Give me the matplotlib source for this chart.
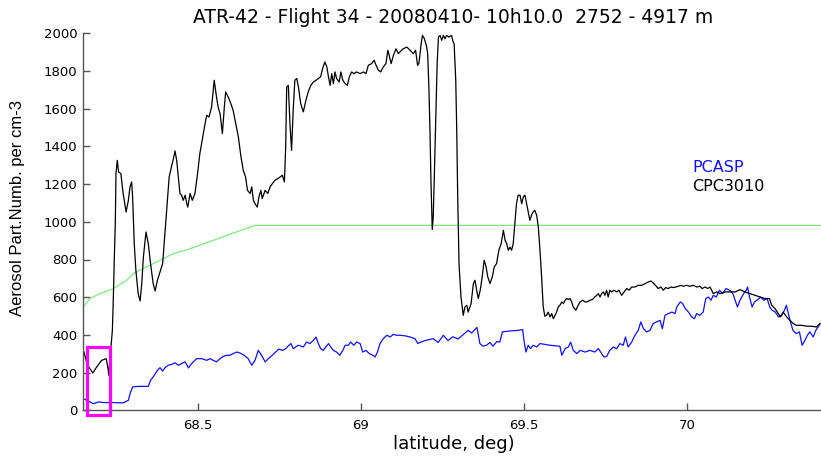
import matplotlib
matplotlib.use("Agg")
import matplotlib.pyplot as plt
from matplotlib.patches import Rectangle
from matplotlib import font_manager

# ---------------- data ----------------
title = "ATR-42 - Flight 34 - 20080410- 10h10.0  2752 - 4917 m"
xlabel = "latitude, deg)"
ylabel = "Aerosol Part.Numb. per cm-3"
legend_labels = ["PCASP", "CPC3010"]
xticks = [68.5, 69.0, 69.5, 70.0]
xtick_labels = ["68.5", "69", "69.5", "70"]
yticks = [0, 200, 400, 600, 800, 1000, 1200, 1400, 1600, 1800, 2000]

cpc_lat = [68.152, 68.162, 68.179, 68.191, 68.206, 68.220, 68.225, 68.228, 68.232, 68.239,
           68.242, 68.245, 68.248, 68.250, 68.254, 68.258, 68.265, 68.272, 68.281, 68.288,
           68.293, 68.298, 68.301, 68.306, 68.311, 68.318, 68.324, 68.329, 68.334, 68.342,
           68.349, 68.356, 68.364, 68.370, 68.377, 68.385, 68.393, 68.400, 68.407, 68.413,
           68.421, 68.426, 68.431, 68.436, 68.441, 68.446, 68.451, 68.456, 68.462, 68.467,
           68.470, 68.477, 68.484, 68.492, 68.500, 68.507, 68.514, 68.523, 68.528, 68.535,
           68.543, 68.551, 68.558, 68.563, 68.569, 68.576, 68.582, 68.586, 68.594, 68.602,
           68.609, 68.615, 68.625, 68.633, 68.640, 68.647, 68.653, 68.661, 68.666, 68.671,
           68.676, 68.683, 68.688, 68.694, 68.698, 68.707, 68.715, 68.722, 68.729, 68.737,
           68.746, 68.753, 68.760, 68.766, 68.770, 68.773, 68.778, 68.783, 68.788, 68.793,
           68.798, 68.804, 68.809, 68.816, 68.824, 68.832, 68.839, 68.847, 68.855, 68.863,
           68.870, 68.877, 68.883, 68.890, 68.896, 68.901, 68.906, 68.911, 68.916, 68.921,
           68.926, 68.934, 68.939, 68.945, 68.952, 68.959, 68.965, 68.972, 68.979, 68.987,
           68.998, 69.008, 69.016, 69.023, 69.033, 69.041, 69.047, 69.054, 69.061, 69.069,
           69.077, 69.083, 69.087, 69.093, 69.100, 69.108, 69.115, 69.120, 69.130, 69.141,
           69.151, 69.161, 69.168, 69.174, 69.178, 69.185, 69.189, 69.195, 69.202, 69.205,
           69.209, 69.212, 69.215, 69.219, 69.222, 69.225, 69.230, 69.234, 69.238, 69.243,
           69.248, 69.253, 69.258, 69.263, 69.270, 69.278, 69.283, 69.286, 69.291, 69.294,
           69.297, 69.301, 69.307, 69.314, 69.319, 69.325, 69.329, 69.338, 69.345, 69.350,
           69.355, 69.360, 69.366, 69.372, 69.378, 69.384, 69.389, 69.396, 69.403, 69.409,
           69.416, 69.423, 69.430, 69.437, 69.442, 69.447, 69.452, 69.457, 69.462, 69.467,
           69.472, 69.477, 69.482, 69.488, 69.493, 69.498, 69.503, 69.508, 69.513, 69.518,
           69.523, 69.528, 69.533, 69.539, 69.544, 69.549, 69.554, 69.559, 69.564, 69.569,
           69.574, 69.580, 69.585, 69.590, 69.595, 69.600, 69.605, 69.610, 69.616, 69.621,
           69.626, 69.631, 69.636, 69.641, 69.646, 69.651, 69.659, 69.666, 69.672, 69.680,
           69.687, 69.694, 69.702, 69.710, 69.717, 69.723, 69.728, 69.733, 69.738, 69.743,
           69.748, 69.753, 69.758, 69.763, 69.768, 69.776, 69.784, 69.791, 69.799, 69.807,
           69.815, 69.822, 69.830, 69.840, 69.850, 69.861, 69.871, 69.881, 69.889, 69.896,
           69.903, 69.911, 69.920, 69.927, 69.934, 69.942, 69.950, 69.957, 69.965, 69.973,
           69.981, 69.988, 69.998, 70.008, 70.019, 70.029, 70.039, 70.046, 70.055, 70.063,
           70.070, 70.080, 70.090, 70.101, 70.116, 70.131, 70.147, 70.162, 70.177, 70.193,
           70.208, 70.223, 70.238, 70.252, 70.259, 70.269, 70.279, 70.286, 70.294, 70.305,
           70.315, 70.325, 70.335, 70.350, 70.366, 70.381, 70.396, 70.407]
cpc_val = [309, 242, 198, 230, 265, 274, 230, 186, 283, 424,
           601, 813, 990, 1256, 1326, 1264, 1256, 1150, 1052, 1114,
           1185, 1211, 1132, 884, 743, 619, 580, 672, 813, 946,
           884, 778, 672, 633, 690, 734, 778, 937, 1096, 1238,
           1300, 1335, 1376, 1326, 1238, 1150, 1141, 1114, 1141, 1096,
           1078, 1150, 1114, 1150, 1256, 1362, 1432, 1521, 1565, 1556,
           1609, 1751, 1662, 1609, 1574, 1468, 1609, 1689, 1662, 1627,
           1591, 1539, 1450, 1344, 1273, 1238, 1167, 1150, 1185, 1114,
           1096, 1078, 1132, 1167, 1123, 1167, 1150, 1185, 1202, 1220,
           1229, 1238, 1247, 1211, 1397, 1715, 1724, 1521, 1379, 1591,
           1751, 1760, 1715, 1627, 1583, 1645, 1689, 1724, 1742, 1751,
           1760, 1769, 1813, 1848, 1822, 1769, 1724, 1786, 1733, 1795,
           1760, 1742, 1795, 1751, 1733, 1724, 1769, 1795, 1786, 1795,
           1786, 1795, 1786, 1830, 1839, 1857, 1830, 1804, 1795, 1822,
           1839, 1910, 1883, 1839, 1883, 1918, 1892, 1901, 1918, 1927,
           1910, 1892, 1910, 1830, 1839, 1945, 1989, 1971, 1927, 1892,
           1698, 1485, 1220, 959, 1025, 1220, 1574, 1839, 1980, 1989,
           1963, 1989, 1971, 1989, 1980, 1989, 1954, 1945, 1751, 1485,
           1132, 778, 601, 504, 548, 557, 521, 566, 672, 690,
           637, 593, 637, 708, 796, 761, 708, 672, 708, 761,
           778, 849, 884, 955, 902, 884, 849, 866, 849, 884,
           990, 1096, 1141, 1141, 1096, 1132, 1141, 1096, 1052, 1008,
           1034, 1052, 1061, 1034, 972, 849, 708, 548, 499, 504,
           521, 495, 513, 486, 504, 521, 548, 557, 575, 566,
           584, 593, 588, 593, 575, 548, 531, 557, 575, 584,
           575, 575, 584, 588, 601, 610, 619, 601, 619, 628,
           610, 637, 601, 637, 628, 637, 628, 637, 610, 628,
           646, 637, 654, 654, 663, 663, 672, 681, 686, 675,
           663, 646, 654, 637, 651, 646, 654, 651, 654, 658,
           663, 658, 663, 658, 663, 654, 658, 646, 654, 646,
           654, 619, 628, 619, 628, 628, 628, 640, 628, 619,
           610, 601, 593, 593, 557, 540, 513, 495, 521, 495,
           477, 460, 451, 451, 446, 446, 442, 460]

pcasp_lat = [68.150, 68.165, 68.181, 68.196, 68.216, 68.242, 68.272, 68.288, 68.293, 68.301,
             68.318, 68.349, 68.356, 68.364, 68.377, 68.385, 68.393, 68.400, 68.410, 68.421,
             68.431, 68.441, 68.451, 68.462, 68.472, 68.482, 68.497, 68.513, 68.528, 68.538,
             68.548, 68.558, 68.569, 68.579, 68.589, 68.599, 68.609, 68.620, 68.630, 68.643,
             68.655, 68.666, 68.676, 68.686, 68.696, 68.707, 68.717, 68.729, 68.739, 68.749,
             68.760, 68.770, 68.780, 68.786, 68.793, 68.809, 68.824, 68.834, 68.844, 68.855,
             68.863, 68.870, 68.877, 68.885, 68.893, 68.901, 68.908, 68.916, 68.926, 68.936,
             68.945, 68.952, 68.962, 68.969, 68.979, 68.987, 68.998, 69.006, 69.016, 69.026,
             69.037, 69.044, 69.051, 69.059, 69.069, 69.080, 69.090, 69.100, 69.110, 69.120,
             69.136, 69.151, 69.166, 69.175, 69.181, 69.197, 69.222, 69.237, 69.253, 69.267,
             69.282, 69.298, 69.313, 69.329, 69.340, 69.356, 69.365, 69.374, 69.385, 69.396,
             69.405, 69.417, 69.426, 69.434, 69.457, 69.482, 69.496, 69.500, 69.506, 69.513,
             69.520, 69.528, 69.539, 69.549, 69.580, 69.610, 69.616, 69.626, 69.636, 69.643,
             69.651, 69.662, 69.672, 69.687, 69.702, 69.717, 69.728, 69.738, 69.745, 69.753,
             69.763, 69.774, 69.784, 69.794, 69.804, 69.811, 69.819, 69.830, 69.840, 69.850,
             69.858, 69.866, 69.876, 69.886, 69.896, 69.906, 69.917, 69.924, 69.932, 69.942,
             69.953, 69.963, 69.968, 69.979, 69.986, 69.994, 70.004, 70.014, 70.022, 70.029,
             70.039, 70.049, 70.057, 70.065, 70.073, 70.080, 70.089, 70.099, 70.109, 70.119,
             70.130, 70.140, 70.147, 70.154, 70.162, 70.173, 70.181, 70.185, 70.191, 70.199,
             70.206, 70.214, 70.225, 70.235, 70.245, 70.253, 70.260, 70.270, 70.280, 70.290,
             70.298, 70.304, 70.310, 70.315, 70.324, 70.334, 70.344, 70.352, 70.361, 70.368,
             70.376, 70.386, 70.394, 70.401, 70.407]
pcasp_val = [62, 49, 35, 44, 41, 41, 39, 53, 88, 124,
             127, 127, 159, 177, 212, 226, 208, 226, 239, 244,
             252, 239, 248, 257, 225, 248, 274, 274, 265, 274,
             265, 257, 274, 286, 292, 292, 301, 309, 304, 292,
             274, 239, 265, 318, 292, 257, 274, 292, 309, 325,
             318, 327, 345, 354, 327, 345, 336, 362, 354, 371,
             389, 354, 327, 318, 336, 354, 336, 318, 309, 292,
             318, 345, 345, 362, 345, 362, 354, 309, 318, 301,
             292, 283, 309, 354, 380, 398, 389, 403, 398, 398,
             395, 389, 380, 354, 360, 370, 380, 360, 398, 370,
             390, 378, 400, 424, 410, 440, 354, 340, 345, 360,
             340, 365, 362, 416, 421, 424, 428, 371, 309, 345,
             327, 345, 336, 354, 345, 340, 292, 327, 336, 362,
             318, 301, 318, 309, 318, 309, 327, 301, 283, 285,
             318, 336, 327, 354, 345, 389, 336, 362, 398, 424,
             469, 433, 416, 424, 460, 469, 477, 433, 504, 513,
             521, 513, 548, 575, 566, 540, 521, 495, 486, 513,
             504, 521, 593, 601, 584, 610, 601, 637, 619, 646,
             637, 619, 584, 548, 584, 619, 637, 654, 601, 548,
             575, 584, 601, 584, 593, 548, 531, 521, 495, 504,
             531, 557, 513, 477, 424, 407, 416, 345, 371, 398,
             416, 389, 424, 442, 460]

ref_lat = [68.150, 68.170, 68.201, 68.242, 68.283, 68.303, 68.344, 68.385, 68.426, 68.477,
           68.563, 68.676, 70.410]
ref_val = [549, 593, 619, 646, 690, 725, 761, 796, 831, 857,
           911, 981, 981]

box_lat = [68.162, 68.232]
box_val = [-27, 336]

xlim = [68.149, 70.410]
ylim = [0, 2000]

# ---------------- fonts ----------------
names = {f.name for f in font_manager.fontManager.ttflist}
if "Liberation Sans Narrow" in names:
    yl_family, yl_size = "Liberation Sans Narrow", 14.5
else:
    yl_family, yl_size = "Liberation Sans", 12.0
main_family = "DejaVu Sans"

# ---------------- figure ----------------
fig = plt.figure(figsize=(8.21, 4.57), dpi=100)
ax = fig.add_axes([83 / 821, 1 - 410.3 / 457, 738 / 821, 377 / 457])

ax.plot(ref_lat, ref_val, color="#7ee87e", lw=0.9)
ax.plot(pcasp_lat, pcasp_val, color="#1010ff", lw=0.9)
ax.plot(cpc_lat, cpc_val, color="black", lw=0.9)

ax.add_patch(Rectangle((box_lat[0], box_val[0]), box_lat[1] - box_lat[0],
                       box_val[1] - box_val[0], fill=False, edgecolor="#ff00ff",
                       lw=2.3, clip_on=False, zorder=5))

ax.set_xlim(xlim)
ax.set_ylim(ylim)
ax.set_xticks(xticks)
ax.set_xticklabels(xtick_labels)
ax.set_yticks(yticks)
ax.set_yticklabels([str(v) for v in yticks])

for side in ("top", "right"):
    ax.spines[side].set_visible(False)
for side in ("left", "bottom"):
    ax.spines[side].set_color("#555555")
    ax.spines[side].set_linewidth(1.0)

ax.tick_params(axis="both", direction="in", length=5, width=1.0, color="#555555",
               labelsize=9.5, labelcolor="black")
ax.tick_params(axis="x", pad=6.5)
ax.tick_params(axis="y", pad=4)
for lab in ax.get_xticklabels() + ax.get_yticklabels():
    lab.set_family(main_family)

fig.text(453 / 821, 1 - 22.7 / 457, title, ha="center", va="baseline",
         fontsize=13.5, family=main_family, color="black")
fig.text(454 / 821, 1 - 449 / 457, xlabel, ha="center", va="baseline",
         fontsize=13, family=main_family, color="black")
fig.text(18 / 821, 1 - 208 / 457, ylabel, ha="center", va="center", rotation=90,
         fontsize=yl_size, family=yl_family, color="black")

fig.text(692 / 821, 1 - 172 / 457, legend_labels[0], ha="left", va="baseline",
         fontsize=11.5, family=main_family, color="#1010ff")
fig.text(692 / 821, 1 - 191 / 457, legend_labels[1], ha="left", va="baseline",
         fontsize=11.5, family=main_family, color="black")

fig.savefig("out.png", dpi=100)
